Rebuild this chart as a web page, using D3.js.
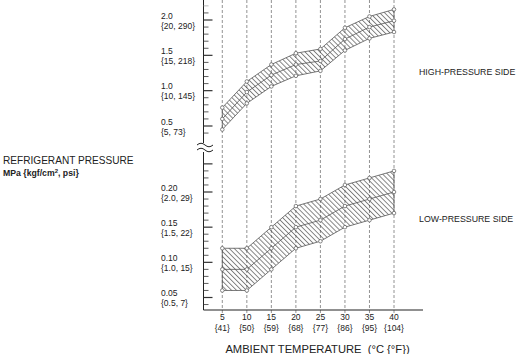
<!DOCTYPE html>
<html>
<head>
<meta charset="utf-8">
<script src="https://cdn.jsdelivr.net/npm/d3@7/dist/d3.min.js"></script>
<style>
  body { margin: 0; background: #fff; }
  svg { display: block; font-family: "Liberation Sans", Arial, Helvetica, sans-serif; }
</style>
</head>
<body>
<svg id="chart" width="517" height="354"></svg>
<script>
// ambient temperature, °C and °F
const temps = [5, 10, 15, 20, 25, 30, 35, 40];
const tempsF = [41, 50, 59, 68, 77, 86, 95, 104];

// high-pressure side, MPa
const hiMax = [0.76, 1.13, 1.37, 1.53, 1.59, 1.89, 2.05, 2.15];
const hiMid = [0.60, 0.98, 1.22, 1.37, 1.42, 1.73, 1.90, 1.99];
const hiMin = [0.45, 0.82, 1.06, 1.21, 1.28, 1.57, 1.74, 1.83];

// low-pressure side, MPa
const loMax = [0.12, 0.12, 0.15, 0.18, 0.19, 0.21, 0.22, 0.23];
const loMid = [0.09, 0.09, 0.12, 0.15, 0.16, 0.18, 0.19, 0.20];
const loMin = [0.06, 0.06, 0.09, 0.12, 0.13, 0.15, 0.16, 0.17];

// tick labels
const hiTicks = [0.5, 1.0, 1.5, 2.0];
const hiTickSub = ["{5, 73}", "{10, 145}", "{15, 218}", "{20, 290}"];
const loTicks = [0.05, 0.10, 0.15, 0.20];
const loTickSub = ["{0.5, 7}", "{1.0, 15}", "{1.5, 22}", "{2.0, 29}"];

const svg = d3.select("#chart");
const axisX = 203.5;
const baseY = 310;

const x = d3.scaleLinear().domain([5, 40]).range([222.3, 394]);
const yHi = d3.scaleLinear().domain([0.5, 2.0]).range([126, 20]);
const yLo = d3.scaleLinear().domain([0.05, 0.20]).range([297.5, 192]);

// hatch pattern
const defs = svg.append("defs");
defs.append("pattern")
    .attr("id", "hatch")
    .attr("patternUnits", "userSpaceOnUse")
    .attr("width", 3.5)
    .attr("height", 3.5)
    .attr("patternTransform", "rotate(-45)")
  .append("line")
    .attr("x1", 0.5).attr("y1", 0)
    .attr("x2", 0.5).attr("y2", 3.5)
    .attr("stroke", "#333")
    .attr("stroke-width", 0.6);

// vertical dashed guides
svg.append("g").selectAll("line")
    .data(temps)
    .join("line")
    .attr("x1", d => x(d)).attr("x2", d => x(d))
    .attr("y1", 0).attr("y2", baseY + 4)
    .attr("stroke", "#777")
    .attr("stroke-width", 0.8)
    .attr("stroke-dasharray", "3,2");

function drawBand(maxV, midV, minV, y) {
    const pts = temps.map((t, i) => ({ t, max: maxV[i], mid: midV[i], min: minV[i] }));
    const area = d3.area()
        .x(d => x(d.t))
        .y0(d => y(d.min))
        .y1(d => y(d.max));
    const g = svg.append("g");
    g.append("path")
        .datum(pts)
        .attr("d", area)
        .attr("fill", "url(#hatch)")
        .attr("stroke", "#555")
        .attr("stroke-width", 0.8);
    g.append("path")
        .datum(pts)
        .attr("d", d3.line().x(d => x(d.t)).y(d => y(d.mid)))
        .attr("fill", "none")
        .attr("stroke", "#555")
        .attr("stroke-width", 0.8);
    ["max", "mid", "min"].forEach(k => {
        g.append("g").selectAll("circle")
            .data(pts)
            .join("circle")
            .attr("cx", d => x(d.t))
            .attr("cy", d => y(d[k]))
            .attr("r", 1.8)
            .attr("fill", "#fff")
            .attr("stroke", "#555")
            .attr("stroke-width", 0.7);
    });
}

drawBand(hiMax, hiMid, hiMin, yHi);
drawBand(loMax, loMid, loMin, yLo);

// y axis lines
svg.append("line")
    .attr("x1", axisX).attr("x2", axisX)
    .attr("y1", 0).attr("y2", 143)
    .attr("stroke", "#222").attr("stroke-width", 1);
svg.append("line")
    .attr("x1", axisX).attr("x2", axisX)
    .attr("y1", 152).attr("y2", baseY)
    .attr("stroke", "#222").attr("stroke-width", 1);

// ticks upper
const hiTickVals = d3.range(4, 23).map(d => d / 10);
const isHiMajor = d => Math.abs(d * 2 - Math.round(d * 2)) < 1e-6;
svg.append("g").selectAll("line")
    .data(hiTickVals)
    .join("line")
    .attr("x1", axisX)
    .attr("x2", d => axisX + (isHiMajor(d) ? 9 : 5))
    .attr("y1", d => yHi(d)).attr("y2", d => yHi(d))
    .attr("stroke", d => d > 2.15 ? "#aaa" : "#333")
    .attr("stroke-width", d => isHiMajor(d) ? 1.2 : 0.8);

// ticks lower
const loTickVals = d3.range(4, 25).map(d => d / 100);
const isLoMajor = d => Math.round(d * 100) % 5 === 0 || Math.round(d * 100) === 24;
svg.append("g").selectAll("line")
    .data(loTickVals)
    .join("line")
    .attr("x1", axisX)
    .attr("x2", d => axisX + (isLoMajor(d) ? 9 : 5))
    .attr("y1", d => yLo(d)).attr("y2", d => yLo(d))
    .attr("stroke", "#333")
    .attr("stroke-width", d => isLoMajor(d) ? 1.2 : 0.8);

// y tick labels
function tickLabels(vals, subs, y, fmt) {
    const g = svg.append("g")
        .attr("font-size", 8.5)
        .attr("fill", "#222");
    g.selectAll("text.main")
        .data(vals)
        .join("text")
        .attr("class", "main")
        .attr("x", 161)
        .attr("y", d => y(d) - 1.5)
        .text(fmt);
    g.selectAll("text.sub")
        .data(vals)
        .join("text")
        .attr("class", "sub")
        .attr("x", 161)
        .attr("y", d => y(d) + 8.5)
        .text((d, i) => subs[i]);
}
tickLabels(hiTicks, hiTickSub, yHi, d3.format(".1f"));
tickLabels(loTicks, loTickSub, yLo, d3.format(".2f"));

// axis break symbol
const brk = svg.append("g");
brk.append("rect")
    .attr("x", axisX - 2).attr("y", 143)
    .attr("width", 4).attr("height", 9)
    .attr("fill", "#fff");
[145, 150].forEach(yy => {
    brk.append("path")
        .attr("d", `M197,${yy} q4,-3.5 8,0 t8,0`)
        .attr("fill", "none")
        .attr("stroke", "#222")
        .attr("stroke-width", 1);
});

// x axis
svg.append("line")
    .attr("x1", axisX).attr("x2", 423)
    .attr("y1", baseY).attr("y2", baseY)
    .attr("stroke", "#222").attr("stroke-width", 1.2);

const xl = svg.append("g")
    .attr("font-size", 8.5)
    .attr("fill", "#222")
    .attr("text-anchor", "middle");
xl.selectAll("text.c")
    .data(temps)
    .join("text")
    .attr("class", "c")
    .attr("x", d => x(d))
    .attr("y", 320)
    .text(d => d);
xl.selectAll("text.f")
    .data(tempsF)
    .join("text")
    .attr("class", "f")
    .attr("x", (d, i) => x(temps[i]))
    .attr("y", 331)
    .text(d => `{${d}}`);

// titles
svg.append("text")
    .attr("x", 317.5).attr("y", 353)
    .attr("text-anchor", "middle")
    .attr("font-size", 11.2)
    .attr("fill", "#222")
    .text("AMBIENT TEMPERATURE\u00a0\u00a0(°C {°F})");

svg.append("text")
    .attr("x", 3).attr("y", 164)
    .attr("font-size", 10.1)
    .attr("fill", "#222")
    .text("REFRIGERANT PRESSURE");

const unit = svg.append("text")
    .attr("x", 3).attr("y", 175.5)
    .attr("font-size", 8.7)
    .attr("font-weight", "bold")
    .attr("fill", "#222");
unit.append("tspan").text("MPa {kgf/cm");
unit.append("tspan").attr("font-size", 6).attr("dy", -3).text("2");
unit.append("tspan").attr("dy", 3).text(", psi}");

svg.append("text")
    .attr("x", 419).attr("y", 75)
    .attr("font-size", 8.8)
    .attr("fill", "#222")
    .text("HIGH-PRESSURE SIDE");

svg.append("text")
    .attr("x", 419).attr("y", 222)
    .attr("font-size", 8.8)
    .attr("fill", "#222")
    .text("LOW-PRESSURE SIDE");
</script>
</body>
</html>
